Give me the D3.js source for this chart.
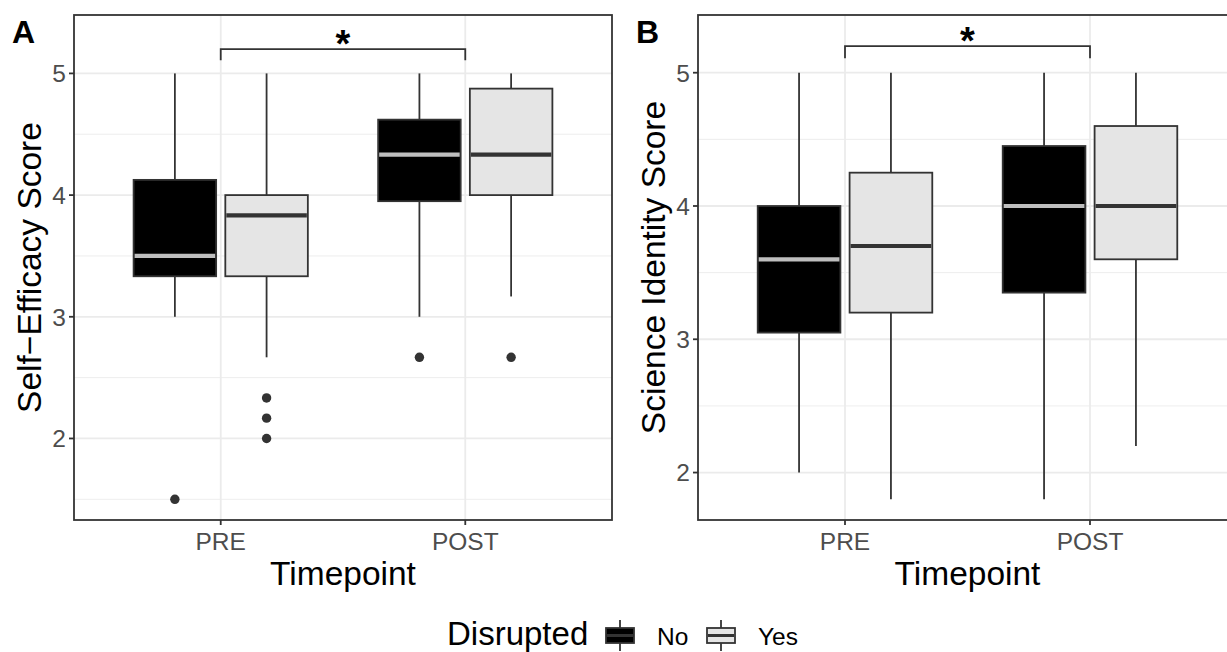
<!DOCTYPE html>
<html>
<head>
<meta charset="utf-8">
<script src="https://cdn.jsdelivr.net/npm/d3@7"></script>
<style>
  body { margin: 0; background: #fff; }
  text { font-family: 'Liberation Sans', Arial, Helvetica, sans-serif; }
</style>
</head>
<body>
<script>
// Categories
const timepoints = ['PRE', 'POST'];
const groups = ['No', 'Yes'];

// Panel A: Self-Efficacy (order: PRE-No, PRE-Yes, POST-No, POST-Yes)
const effLower = [3.0, 2.667, 3.0, 3.167];
const effQ1 = [3.333, 3.333, 3.95, 4.0];
const effMedian = [3.5, 3.833, 4.333, 4.333];
const effQ3 = [4.125, 4.0, 4.62, 4.875];
const effUpper = [5.0, 5.0, 5.0, 5.0];
const effOutliers = [[1.5], [2.333, 2.167, 2.0], [2.667], [2.667]];

// Panel B: Science Identity
const sciLower = [2.0, 1.8, 1.8, 2.2];
const sciQ1 = [3.05, 3.2, 3.35, 3.6];
const sciMedian = [3.6, 3.7, 4.0, 4.0];
const sciQ3 = [4.0, 4.25, 4.45, 4.6];
const sciUpper = [5.0, 5.0, 5.0, 5.0];
const sciOutliers = [[], [], [], []];

const yTicks = [2, 3, 4, 5];
const yMinor = [1.5, 2.5, 3.5, 4.5];

const width = 1227;
const height = 652;

const svg = d3.select('body')
  .append('svg')
  .attr('width', width)
  .attr('height', height);

const fills = { No: '#000000', Yes: '#e5e5e5' };
const medianCol = { No: '#bebebe', Yes: '#333333' };
const lw = 1.8;

function drawPanel(opts) {
  const { left, right, top, bottom, domain, tag, title, stats } = opts;

  const x = d3.scaleLinear().domain([0.4, 2.6]).range([left, right]);
  const y = d3.scaleLinear().domain(domain).range([bottom, top]);

  const clipId = 'clip-' + tag;
  svg.append('clipPath')
    .attr('id', clipId)
    .append('rect')
    .attr('x', left)
    .attr('y', top)
    .attr('width', right - left)
    .attr('height', bottom - top);

  const g = svg.append('g').attr('clip-path', `url(#${clipId})`);

  // minor grid
  g.selectAll('.minor')
    .data(yMinor.filter(v => v > domain[0] && v < domain[1]))
    .enter()
    .append('line')
    .attr('x1', left).attr('x2', right)
    .attr('y1', d => y(d)).attr('y2', d => y(d))
    .style('stroke', '#ebebeb')
    .style('stroke-width', 0.9);

  // major grid
  g.selectAll('.major')
    .data(yTicks)
    .enter()
    .append('line')
    .attr('x1', left).attr('x2', right)
    .attr('y1', d => y(d)).attr('y2', d => y(d))
    .style('stroke', '#ebebeb')
    .style('stroke-width', 1.8);

  g.selectAll('.vmajor')
    .data(timepoints)
    .enter()
    .append('line')
    .attr('x1', (d, i) => x(i + 1)).attr('x2', (d, i) => x(i + 1))
    .attr('y1', top).attr('y2', bottom)
    .style('stroke', '#ebebeb')
    .style('stroke-width', 1.8);

  // boxes
  const boxes = [];
  timepoints.forEach((t, ti) => {
    groups.forEach((gr, gi) => {
      const k = ti * 2 + gi;
      boxes.push({
        group: gr,
        cx: ti + 1 + (gi === 0 ? -0.1875 : 0.1875),
        lower: stats.lower[k],
        q1: stats.q1[k],
        median: stats.median[k],
        q3: stats.q3[k],
        upper: stats.upper[k],
        outliers: stats.outliers[k]
      });
    });
  });

  const half = 0.3375 / 2;

  const bx = g.selectAll('.box')
    .data(boxes)
    .enter()
    .append('g');

  bx.append('line')
    .attr('x1', d => x(d.cx)).attr('x2', d => x(d.cx))
    .attr('y1', d => y(d.upper)).attr('y2', d => y(d.q3))
    .style('stroke', '#333')
    .style('stroke-width', lw);

  bx.append('line')
    .attr('x1', d => x(d.cx)).attr('x2', d => x(d.cx))
    .attr('y1', d => y(d.q1)).attr('y2', d => y(d.lower))
    .style('stroke', '#333')
    .style('stroke-width', lw);

  bx.append('rect')
    .attr('x', d => x(d.cx - half))
    .attr('width', d => x(d.cx + half) - x(d.cx - half))
    .attr('y', d => y(d.q3))
    .attr('height', d => y(d.q1) - y(d.q3))
    .style('fill', d => fills[d.group])
    .style('stroke', '#333')
    .style('stroke-width', lw);

  bx.append('line')
    .attr('x1', d => x(d.cx - half) + 1).attr('x2', d => x(d.cx + half) - 1)
    .attr('y1', d => y(d.median)).attr('y2', d => y(d.median))
    .style('stroke', d => medianCol[d.group])
    .style('stroke-width', 4.2);

  bx.selectAll('circle')
    .data(d => d.outliers.map(v => ({ v, cx: d.cx })))
    .enter()
    .append('circle')
    .attr('cx', d => x(d.cx))
    .attr('cy', d => y(d.v))
    .attr('r', 4.7)
    .style('fill', '#333');

  // significance bracket
  const by = y(5.2);
  const bEnd = y(5.108);
  g.append('path')
    .attr('d', `M${x(1)},${bEnd}V${by}H${x(2)}V${bEnd}`)
    .style('fill', 'none')
    .style('stroke', '#333')
    .style('stroke-width', lw);

  svg.append('text')
    .attr('x', x(1.5))
    .attr('y', by + 8)
    .attr('text-anchor', 'middle')
    .style('font-size', '38px')
    .style('font-weight', 'bold')
    .text('*');

  // panel border
  svg.append('rect')
    .attr('x', left).attr('y', top)
    .attr('width', right - left).attr('height', bottom - top)
    .style('fill', 'none')
    .style('stroke', '#333')
    .style('stroke-width', lw);

  // y ticks
  yTicks.forEach(v => {
    svg.append('line')
      .attr('x1', left - 5).attr('x2', left)
      .attr('y1', y(v)).attr('y2', y(v))
      .style('stroke', '#333')
      .style('stroke-width', lw);
    svg.append('text')
      .attr('x', left - 8)
      .attr('y', y(v))
      .attr('dy', '0.36em')
      .attr('text-anchor', 'end')
      .style('font-size', '24.5px')
      .style('fill', '#4d4d4d')
      .text(v);
  });

  // x ticks
  timepoints.forEach((t, i) => {
    svg.append('line')
      .attr('x1', x(i + 1)).attr('x2', x(i + 1))
      .attr('y1', bottom).attr('y2', bottom + 5)
      .style('stroke', '#333')
      .style('stroke-width', lw);
    svg.append('text')
      .attr('x', x(i + 1))
      .attr('y', bottom + 30)
      .attr('text-anchor', 'middle')
      .style('font-size', '24.5px')
      .style('fill', '#4d4d4d')
      .text(t);
  });

  // axis titles
  svg.append('text')
    .attr('x', (left + right) / 2)
    .attr('y', bottom + 65)
    .attr('text-anchor', 'middle')
    .style('font-size', '33.5px')
    .text('Timepoint');

  svg.append('text')
    .attr('transform', `translate(${left - 33}, ${(top + bottom) / 2}) rotate(-90)`)
    .attr('text-anchor', 'middle')
    .style('font-size', '33.5px')
    .text(title);

  // tag
  svg.append('text')
    .attr('x', left - 62)
    .attr('y', 43)
    .style('font-size', '32px')
    .style('font-weight', 'bold')
    .text(tag);
}

drawPanel({
  left: 74, right: 612, top: 15, bottom: 520,
  domain: [1.33, 5.48],
  tag: 'A',
  title: 'Self\u2212Efficacy Score',
  stats: { lower: effLower, q1: effQ1, median: effMedian, q3: effQ3, upper: effUpper, outliers: effOutliers }
});

drawPanel({
  left: 698, right: 1237, top: 15, bottom: 520,
  domain: [1.644, 5.433],
  tag: 'B',
  title: 'Science Identity Score',
  stats: { lower: sciLower, q1: sciQ1, median: sciMedian, q3: sciQ3, upper: sciUpper, outliers: sciOutliers }
});

// legend
const legend = svg.append('g');
legend.append('text')
  .attr('x', 447)
  .attr('y', 645)
  .style('font-size', '33px')
  .text('Disrupted');

const keyX = [606, 707];
const labX = [657, 758];
groups.forEach((gr, i) => {
  const cx = keyX[i] + 14;
  legend.append('line')
    .attr('x1', cx).attr('x2', cx)
    .attr('y1', 620).attr('y2', 651)
    .style('stroke', '#333')
    .style('stroke-width', lw);
  legend.append('rect')
    .attr('x', keyX[i]).attr('y', 628)
    .attr('width', 28).attr('height', 15)
    .style('fill', fills[gr])
    .style('stroke', '#333')
    .style('stroke-width', lw);
  legend.append('line')
    .attr('x1', keyX[i] + 1).attr('x2', keyX[i] + 27)
    .attr('y1', 635.5).attr('y2', 635.5)
    .style('stroke', '#333')
    .style('stroke-width', 3);
  legend.append('text')
    .attr('x', labX[i])
    .attr('y', 645)
    .style('font-size', '24.5px')
    .text(gr);
});
</script>
</body>
</html>
